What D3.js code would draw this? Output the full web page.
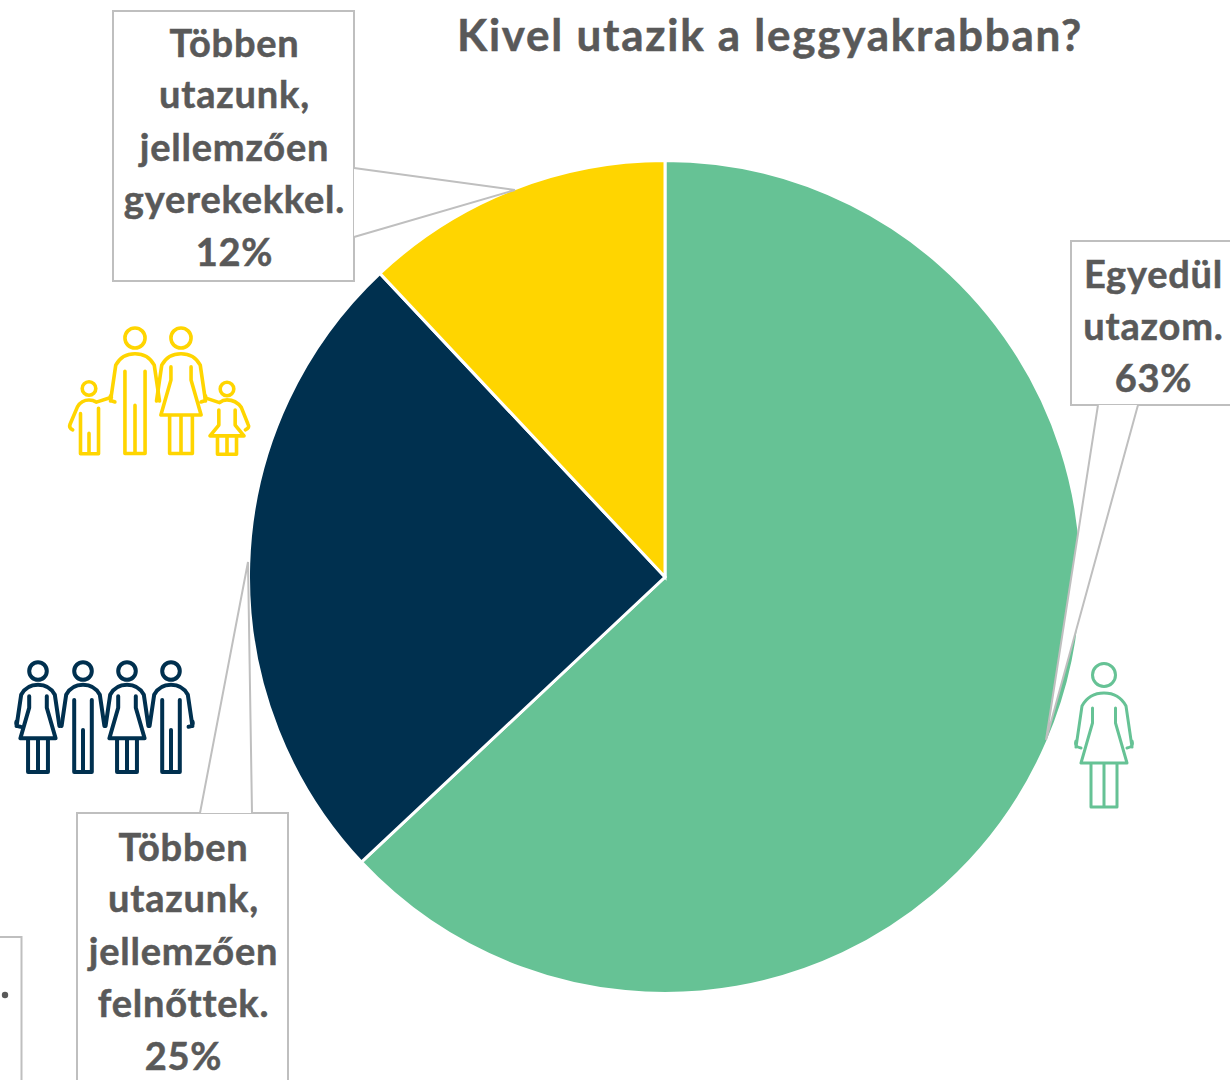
<!DOCTYPE html>
<html>
<head>
<meta charset="utf-8">
<script src="https://cdn.jsdelivr.net/npm/d3@7"></script>
<style>
  html, body { margin: 0; padding: 0; background: #fff; overflow: hidden; }
  text { font-family: Lato, "Open Sans", sans-serif; font-weight: 700; fill: #595959; stroke: #595959; stroke-width: 0.5px; }
</style>
</head>
<body>
<svg id="chart" width="1230" height="1080"></svg>
<script>
const title = "Kivel utazik a leggyakrabban?";
const categories = [
  "Egyedül utazom.",
  "Többen utazunk, jellemzően felnőttek.",
  "Többen utazunk, jellemzően gyerekekkel."
];
const values = [63, 25, 12];
const colors = ["#66c295", "#00304f", "#ffd500"];
const labelLines = [
  ["Egyedül", "utazom."],
  ["Többen", "utazunk,", "jellemzően", "felnőttek."],
  ["Többen", "utazunk,", "jellemzően", "gyerekekkel."]
];

const svg = d3.select("#chart");
const cx = 665, cy = 577, radius = 416.5;

// pie
const pie = d3.pie().sort(null).value(d => d);
const arc = d3.arc().innerRadius(0).outerRadius(radius);

svg.append("g")
  .attr("transform", `translate(${cx},${cy})`)
  .selectAll("path")
  .data(pie(values))
  .enter()
  .append("path")
  .attr("d", arc)
  .attr("fill", (d, i) => colors[i])
  .attr("stroke", "#fff")
  .attr("stroke-width", 3)
  .append("title")
  .text((d, i) => categories[i]);

svg.append("text")
  .attr("x", 770)
  .attr("y", 51)
  .attr("text-anchor", "middle")
  .attr("font-size", 44)
  .attr("letter-spacing", 1.75)
  .text(title);

// callouts: box + wedge pointing at the slice, same order as values
const callouts = [
  { box: [1071, 241, 1240, 405], wedge: "M1098,405 L1046,740 L1138,405", x: 1153.5, y: [288, 340, 392] },
  { box: [77, 813, 288, 1090], wedge: "M200,813 L248,562 L252,813", x: 183.5, y: [861, 912, 965, 1017, 1070] },
  { box: [113, 11, 354, 281], wedge: "M354,168 L515,190 L354,237", x: 234.5, y: [57, 108, 161, 213, 266] }
];

callouts.forEach((c, i) => {
  const [x0, y0, x1, y1] = c.box;
  svg.append("path")
    .attr("d", `M${x0},${y0} H${x1} V${y1} H${x0} Z`)
    .attr("fill", "#fff")
    .attr("stroke", "#bfbfbf")
    .attr("stroke-width", 2);
  // white wedge hides the box edge under it
  svg.append("path")
    .attr("d", c.wedge)
    .attr("fill", "#fff")
    .attr("stroke", "none");
  svg.append("path")
    .attr("d", c.wedge)
    .attr("fill", "none")
    .attr("stroke", "#bfbfbf")
    .attr("stroke-width", 2);

  const lines = labelLines[i].concat(values[i] + "%");
  svg.append("g")
    .selectAll("text")
    .data(lines)
    .enter()
    .append("text")
    .attr("x", c.x)
    .attr("y", (d, j) => c.y[j])
    .attr("text-anchor", "middle")
    .attr("font-size", 38)
    .attr("letter-spacing", 0.8)
    .text(d => d);
});

// the cut off box at the bottom left
svg.append("rect")
  .attr("x", -10).attr("y", 937)
  .attr("width", 31.5).attr("height", 160)
  .attr("fill", "#fff").attr("stroke", "#bfbfbf").attr("stroke-width", 2);
svg.append("circle")
  .attr("cx", 5).attr("cy", 995).attr("r", 3.2)
  .attr("fill", "#595959");

// pictograms, local units: head centre is 0,0
const head = "M-11.5,0 a11.5,11.5 0 1,0 23,0 a11.5,11.5 0 1,0 -23,0 ";
const arms = "M-28,72 L-22,31 Q-15,18 0,18 Q15,18 22,31 L28,72 ";
const woman = head + arms +
  "M-11.5,33 V48 L-23,88 H23 L11.5,48 V33 " +
  "M-13,88 V132 H13 V88 M0,88 V132";
const man = head + arms +
  "M-11.5,38 V132 H11.5 V38 M0,77 V132";
const hookLeft = "M-28,66 Q-30,72 -23,73";
const hookRight = "M28,66 Q30,72 23,73";
const boy = "M-10,0 a10,10 0 1,0 20,0 a10,10 0 1,0 -20,0 " +
  "M-24,61 Q-30,58 -28,53 L-17,27 Q-11,17 0,17 Q6,17 11,20 L33,13 " +
  "M-12.5,37 V96 H14 V29 M0,66 V96";
const girl = "M-10,0 a10,10 0 1,0 20,0 a10,10 0 1,0 -20,0 " +
  "M27,60 Q34,57 31,52 L21,27 Q13,16 0,16 Q-6,16 -11,20 L-32,13 " +
  "M-12,31 V53 L-25,69 H25 L12,53 V31 " +
  "M-14,69 V96 H14 V69 M0,69 V96";

function icon(path, x, y, k, color, width) {
  svg.append("path")
    .attr("d", path)
    .attr("transform", `translate(${x},${y}) scale(${k})`)
    .attr("fill", "none")
    .attr("stroke", color)
    .attr("stroke-width", width / k)
    .attr("stroke-linecap", "round")
    .attr("stroke-linejoin", "round");
}

icon(woman + hookLeft + hookRight, 1104, 675, 1, colors[0], 3);

icon(woman + hookLeft, 38, 671, 0.765, colors[1], 4);
icon(man, 83, 671, 0.765, colors[1], 4);
icon(woman, 127, 671, 0.765, colors[1], 4);
icon(man + hookRight, 171, 671, 0.765, colors[1], 4);

icon(man + hookLeft, 135, 338, 0.875, colors[2], 3.6);
icon(woman + hookRight, 181, 338, 0.875, colors[2], 3.6);
icon(boy, 89, 388.5, 0.68, colors[2], 3.6);
icon(girl, 227, 389, 0.68, colors[2], 3.6);
</script>
</body>
</html>
